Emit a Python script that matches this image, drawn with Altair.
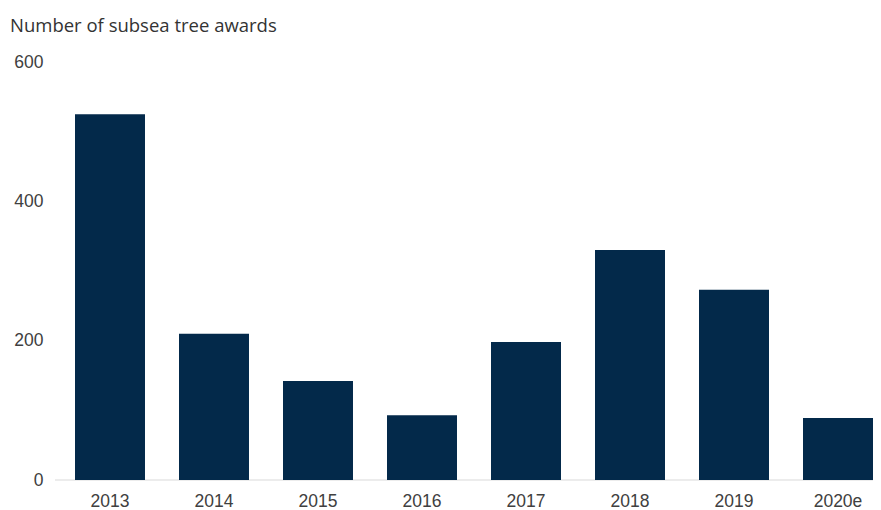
import altair as alt
import pandas as pd

years = ["2013", "2014", "2015", "2016", "2017", "2018", "2019", "2020e"]
awards = [525, 210, 142, 93, 198, 330, 273, 89]
y_ticks = [0, 200, 400, 600]
title_text = "Number of subsea tree awards"

df = pd.DataFrame({"year": years, "awards": awards})

W, H = 798, 418
yscale = alt.Scale(domain=[0, 600], nice=False)

bars = alt.Chart(df).mark_bar(color="#03294a").encode(
    x=alt.X("year:N", sort=years, title=None,
            scale=alt.Scale(paddingInner=0.327, paddingOuter=0),
            axis=alt.Axis(domain=False, ticks=False, labelAngle=0,
                          labelFont="Liberation Sans", labelFontSize=17.5,
                          labelColor="#404040", labelPadding=12)),
    y=alt.Y("awards:Q", title=None, scale=yscale,
            axis=alt.Axis(values=y_ticks, domain=False, ticks=False, grid=False,
                          labelFont="Liberation Sans", labelFontSize=17.5,
                          labelColor="#404040", labelPadding=32)),
)

base = alt.Chart(pd.DataFrame({"v": [0]})).mark_rule(color="#d9d9d9", strokeWidth=1).encode(
    x=alt.value(-20), x2=alt.value(W + 8), y=alt.Y("v:Q", scale=yscale)
)

title = alt.Chart(pd.DataFrame({"t": [title_text]})).mark_text(
    align="left", baseline="alphabetic", font="Open Sans", fontSize=18.5, color="#333333"
).encode(x=alt.value(-65), y=alt.value(-30), text="t:N")

chart = alt.layer(base, bars, title).properties(
    width=W, height=H,
    autosize=alt.AutoSizeParams(type="none"),
    padding={"left": 67, "top": 54, "right": 0, "bottom": 30},
).configure_view(stroke=None)

chart.save("out.html", embed_options={"renderer": "svg", "actions": False})
